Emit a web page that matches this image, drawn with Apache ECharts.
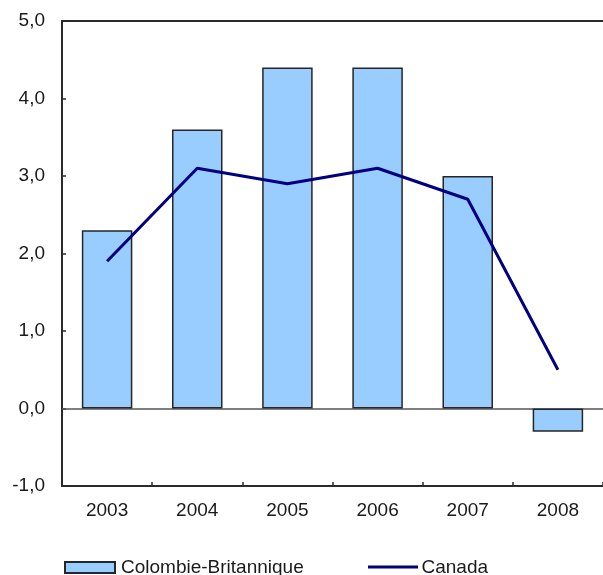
<!DOCTYPE html>
<html>
<head>
<meta charset="utf-8">
<script src="https://cdn.jsdelivr.net/npm/echarts@6/dist/echarts.min.js"></script>
<style>
  html, body { margin: 0; padding: 0; background: #fff; }
  #chart { width: 603px; height: 575px; }
</style>
</head>
<body>
<div id="chart"></div>
<script>
// Annual change (%), 2003-2008
const years = ['2003', '2004', '2005', '2006', '2007', '2008'];
const colombieBritannique = [2.3, 3.6, 4.4, 4.4, 3.0, -0.3];
const canada = [1.9, 3.1, 2.9, 3.1, 2.7, 0.5];
const yMin = -1;
const yMax = 5;
const yStep = 1;

const FONT = '"Liberation Sans", Arial, sans-serif';
const TEXT = '#1a1a1a';
const AXIS = '#2a2a2a';

// legend line icon: a 3px stroke inside an 11px-high box (tiny corner dots fix the box)
const LINE_ICON = 'path://M0,0h0.01v0.01h-0.01z M0,3.5h50v3h-50z M0,10.99h0.01v0.01h-0.01z';

const chart = echarts.init(document.getElementById('chart'), null, { renderer: 'canvas' });

chart.setOption({
  animation: false,
  backgroundColor: '#ffffff',
  textStyle: { fontFamily: FONT, color: TEXT },
  // plot area runs past the right edge of the canvas
  grid: { left: 62, top: 21, width: 543, bottom: 89, show: false },
  legend: [
    {
      data: [{ name: 'Colombie-Britannique', icon: 'rect' }],
      left: 64, top: 558,
      itemWidth: 50, itemHeight: 11, itemGap: 0,
      padding: 0,
      textStyle: { fontFamily: FONT, fontSize: 19, color: TEXT, padding: [0, 0, 0, 1] }
    },
    {
      data: [{ name: 'Canada', icon: LINE_ICON, itemStyle: { color: '#000080', borderWidth: 0 } }],
      left: 368, top: 558,
      itemWidth: 55, itemHeight: 11, itemGap: 0,
      padding: 0,
      textStyle: { fontFamily: FONT, fontSize: 19, color: TEXT, padding: [0, 0, 0, -4] }
    }
  ],
  xAxis: [
    {
      type: 'category',
      data: years,
      boundaryGap: true,
      axisLine: { show: true, onZero: false, lineStyle: { color: AXIS, width: 2 } },
      axisTick: { show: true, inside: true, length: 4, lineStyle: { color: AXIS, width: 1.5 } },
      axisLabel: { fontFamily: FONT, fontSize: 19, color: TEXT, margin: 15 },
      splitLine: { show: false }
    },
    {
      // top border of the plot area
      type: 'category',
      position: 'top',
      data: years,
      axisLine: { show: true, onZero: false, lineStyle: { color: AXIS, width: 2 } },
      axisTick: { show: false },
      axisLabel: { show: false },
      splitLine: { show: false }
    }
  ],
  yAxis: {
    type: 'value',
    min: yMin, max: yMax, interval: yStep,
    axisLine: { show: true, onZero: false, lineStyle: { color: AXIS, width: 2 } },
    axisTick: { show: true, inside: true, length: 4, lineStyle: { color: AXIS, width: 1.5 } },
    axisLabel: {
      fontFamily: FONT, fontSize: 19, color: TEXT, margin: 17,
      formatter: v => v.toFixed(1).replace('.', ',')
    },
    splitLine: { show: false }
  },
  series: [
    {
      name: 'Colombie-Britannique',
      type: 'bar',
      data: colombieBritannique,
      barWidth: '56%',
      itemStyle: { color: '#99ccff', borderColor: '#262626', borderWidth: 1.5 },
      markLine: {
        silent: true,
        symbol: 'none',
        label: { show: false },
        lineStyle: { color: '#555555', width: 1.5, type: 'solid' },
        data: [{ yAxis: 0 }],
        z: 1
      },
      z: 2
    },
    {
      name: 'Canada',
      type: 'line',
      data: canada,
      symbol: 'none',
      smooth: false,
      lineStyle: { color: '#000080', width: 3 },
      itemStyle: { color: '#000080' },
      z: 3
    }
  ]
});
</script>
</body>
</html>
